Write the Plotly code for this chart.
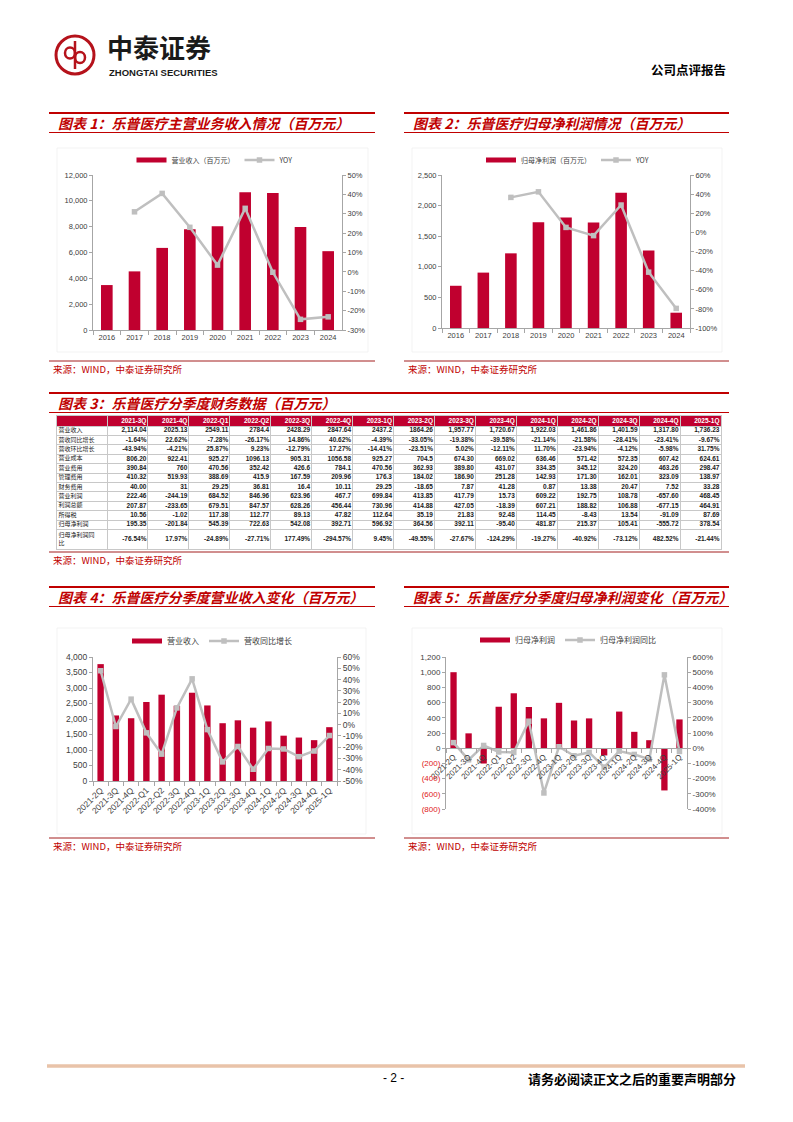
import plotly.graph_objects as go

W, H = 793, 1122

# ------------------------------------------------------------------ data
YEARS = ['2016', '2017', '2018', '2019', '2020', '2021', '2022', '2023', '2024']
REVENUE = [3479, 4538, 6356, 7796, 8039, 10660, 10609, 7980, 6103]
REVENUE_YOY = [None, 31.0, 40.5, 23.0, 3.5, 32.8, -0.2, -24.5, -23.2]
PROFIT = [690, 905, 1220, 1728, 1805, 1722, 2210, 1265, 250]
PROFIT_YOY = [None, None, 36.6, 42.4, 5.2, -3.4, 28.6, -41.6, -79.5]

QUARTERS = ['2021-2Q', '2021-3Q', '2021-4Q', '2022-Q1', '2022-Q2', '2022-3Q', '2022-4Q', '2023-1Q',
            '2023-2Q', '2023-3Q', '2023-4Q', '2024-1Q', '2024-2Q', '2024-3Q', '2024-4Q', '2025-1Q']
Q_REVENUE = [3770, 2114.04, 2025.13, 2549.11, 2784.40, 2428.29, 2847.64, 2437.20,
             1864.26, 1957.77, 1720.67, 1922.03, 1461.86, 1401.59, 1317.80, 1736.23]
Q_REVENUE_YOY = [47.8, -1.64, 22.62, -7.28, -26.17, 14.86, 40.62, -4.39,
                 -33.05, -19.38, -39.58, -21.14, -21.58, -28.41, -23.41, -9.67]
Q_PROFIT = [1000, 195.35, -201.84, 545.39, 722.63, 542.08, 392.71, 596.92,
            364.56, 392.11, -95.40, 481.87, 215.37, 105.41, -555.72, 378.54]
Q_PROFIT_YOY = [36.7, -76.54, 17.97, -24.89, -27.71, 177.49, -294.57, 9.45,
                -49.55, -27.67, -124.29, -19.27, -40.92, -73.12, 482.52, -21.44]

C1_LEFT_TICKS = [0, 2000, 4000, 6000, 8000, 10000, 12000]
C1_RIGHT_TICKS = [-30, -20, -10, 0, 10, 20, 30, 40, 50]
C2_LEFT_TICKS = [0, 500, 1000, 1500, 2000, 2500]
C2_RIGHT_TICKS = [-100, -80, -60, -40, -20, 0, 20, 40, 60]
C4_LEFT_TICKS = [0, 500, 1000, 1500, 2000, 2500, 3000, 3500, 4000]
C4_RIGHT_TICKS = [-50, -40, -30, -20, -10, 0, 10, 20, 30, 40, 50, 60]
C5_LEFT_TICKS = [-800, -600, -400, -200, 0, 200, 400, 600, 800, 1000, 1200]
C5_RIGHT_TICKS = [-400, -300, -200, -100, 0, 100, 200, 300, 400, 500, 600]

TABLE_COLS = ['2021-3Q', '2021-4Q', '2022-Q1', '2022-Q2', '2022-3Q', '2022-4Q', '2023-1Q', '2023-2Q',
              '2023-3Q', '2023-4Q', '2024-1Q', '2024-2Q', '2024-3Q', '2024-4Q', '2025-1Q']
ROW_LABELS = ['营业收入', '营收同比增长', '营收环比增长', '营业成本', '营业费用', '管理费用', '财务费用',
              '营业利润', '利润总额', '所得税', '归母净利润', '归母净利润同<br>比']
ROW_REV = ['2,114.04', '2025.13', '2549.11', '2784.4', '2428.29', '2847.64', '2437.2', '1864.26',
           '1,957.77', '1,720.67', '1,922.03', '1,461.86', '1,401.59', '1,317.80', '1,736.23']
ROW_REV_YOY = ['-1.64%', '22.62%', '-7.28%', '-26.17%', '14.86%', '40.62%', '-4.39%', '-33.05%',
               '-19.38%', '-39.58%', '-21.14%', '-21.58%', '-28.41%', '-23.41%', '-9.67%']
ROW_REV_QOQ = ['-43.94%', '-4.21%', '25.87%', '9.23%', '-12.79%', '17.27%', '-14.41%', '-23.51%',
               '5.02%', '-12.11%', '11.70%', '-23.94%', '-4.12%', '-5.98%', '31.75%']
ROW_COST = ['806.20', '922.41', '925.27', '1096.13', '905.31', '1056.58', '925.27', '704.5',
            '674.30', '669.02', '636.46', '571.42', '572.35', '607.42', '624.61']
ROW_SELL = ['390.84', '760', '470.56', '352.42', '426.6', '784.1', '470.56', '362.93',
            '389.80', '431.07', '334.35', '345.12', '324.20', '463.26', '298.47']
ROW_ADMIN = ['410.32', '519.93', '388.69', '415.9', '167.59', '209.96', '176.3', '184.02',
             '186.90', '251.28', '142.93', '171.30', '162.01', '323.09', '138.97']
ROW_FIN = ['40.00', '31', '29.25', '36.81', '16.4', '10.11', '29.25', '-18.65',
           '7.87', '41.28', '0.87', '13.38', '20.47', '7.52', '33.28']
ROW_OP = ['222.46', '-244.19', '684.52', '846.96', '623.96', '467.7', '699.84', '413.85',
          '417.79', '15.73', '609.22', '192.75', '108.78', '-657.60', '468.45']
ROW_TOTAL = ['207.87', '-233.65', '679.51', '847.57', '628.26', '456.44', '730.96', '414.88',
             '427.05', '-18.39', '607.21', '188.82', '106.88', '-677.15', '464.91']
ROW_TAX = ['10.56', '-1.02', '117.38', '112.77', '89.13', '47.82', '112.64', '35.19',
           '21.83', '92.48', '114.45', '-8.43', '13.54', '-91.09', '87.69']
ROW_NP = ['195.35', '-201.84', '545.39', '722.63', '542.08', '392.71', '596.92', '364.56',
          '392.11', '-95.40', '481.87', '215.37', '105.41', '-555.72', '378.54']
ROW_NP_YOY = ['-76.54%', '17.97%', '-24.89%', '-27.71%', '177.49%', '-294.57%', '9.45%', '-49.55%',
              '-27.67%', '-124.29%', '-19.27%', '-40.92%', '-73.12%', '482.52%', '-21.44%']
TABLE_ROWS = [ROW_REV, ROW_REV_YOY, ROW_REV_QOQ, ROW_COST, ROW_SELL, ROW_ADMIN, ROW_FIN,
              ROW_OP, ROW_TOTAL, ROW_TAX, ROW_NP, ROW_NP_YOY]

# ------------------------------------------------------------------ style
RED = '#C0002F'
LINE_GRAY = '#BFBFBF'
TITLE_RED = '#C00000'
AXIS_C = '#A6A6A6'
TICK_C = '#404040'
CJK = 'Noto Sans CJK SC'
LAT = 'Liberation Sans'
SRC_LINE = '#A31F1F'


def fx(x):
    return x / W


def fy(y):
    return 1 - y / H


def axname(p, n):
    return p + 'axis' + ('' if n == 1 else str(n))


def axref(p, n):
    return p + ('' if n == 1 else str(n))


fig = go.Figure()
lay = dict(width=W, height=H, margin=dict(l=0, r=0, t=0, b=0, autoexpand=False),
           paper_bgcolor='white', plot_bgcolor='white', bargap=0.58,
           font=dict(family=LAT, color=TICK_C), showlegend=True)
shapes = []
annotations = []


def add_chart(i, cats, bars, line, names, box, left, right, legend_xy, tick_fs, leg_fs,
              tickangle=0, zero_frac=None):
    x0, y0, x1, y1 = box
    xr = axref('x', i)
    yl = axref('y', 2 * i - 1)
    yr = axref('y', 2 * i)
    leg = 'legend' if i == 1 else 'legend%d' % i
    fig.add_trace(go.Bar(x=cats, y=bars, marker=dict(color=RED, line_width=0), xaxis=xr, yaxis=yl,
                         showlegend=False, hoverinfo='skip'))
    fig.add_trace(go.Scatter(x=[cats[0]], y=[None], mode='lines', line=dict(color=RED, width=5),
                             name=names[0], legend=leg, xaxis=xr, yaxis=yl, hoverinfo='skip'))
    fig.add_trace(go.Scatter(x=cats, y=line, mode='lines+markers',
                             line=dict(color=LINE_GRAY, width=2.5),
                             marker=dict(symbol='square', size=5.5, color=LINE_GRAY),
                             name=names[1], legend=leg, xaxis=xr, yaxis=yr, connectgaps=False,
                             hoverinfo='skip'))
    common = dict(showgrid=False, zeroline=False, showline=True, linecolor=AXIS_C, linewidth=1,
                  ticks='outside', tickcolor=AXIS_C, ticklen=3, automargin=False,
                  tickfont=dict(size=tick_fs, color=TICK_C, family=LAT), fixedrange=True)
    xa = dict(common, domain=[fx(x0), fx(x1)], type='category', tickson='boundaries', ticklen=4,
              tickangle=tickangle, range=[-0.5, len(cats) - 0.5],
              categoryorder='array', categoryarray=cats)
    if zero_frac is None:
        xa['anchor'] = yl
    else:
        xa.update(anchor='free', position=fy(y1) + zero_frac * (fy(y0) - fy(y1)))
    lay[axname('x', i)] = xa
    lay[axname('y', 2 * i - 1)] = dict(common, domain=[fy(y1), fy(y0)], anchor=xr,
                                       range=left[0], tickvals=left[1], ticktext=left[2])
    lay[axname('y', 2 * i)] = dict(common, overlaying=yl, side='right', anchor=xr,
                                   range=right[0], tickvals=right[1], ticktext=right[2])
    lay[leg] = dict(x=fx(legend_xy[0]), y=fy(legend_xy[1]), xanchor='center', yanchor='middle',
                    orientation='h', font=dict(size=leg_fs, family=CJK, color=TICK_C),
                    bgcolor='rgba(0,0,0,0)', itemwidth=30)


def num_labels(vals):
    return ['{:,}'.format(v) for v in vals]


def pct_labels(vals):
    return ['%d%%' % v for v in vals]


def paren_labels(vals):
    out = []
    for v in vals:
        if v < 0:
            out.append('<span style="color:#E02020">({:,})</span>'.format(-v))
        else:
            out.append('{:,}'.format(v))
    return out


add_chart(1, YEARS, REVENUE, REVENUE_YOY, ['营业收入（百万元）', 'YOY'], (93, 175, 342, 330),
          ([0, 12000], C1_LEFT_TICKS, num_labels(C1_LEFT_TICKS)),
          ([-30, 50], C1_RIGHT_TICKS, pct_labels(C1_RIGHT_TICKS)),
          (215, 160), 7.5, 7)
add_chart(2, YEARS, PROFIT, PROFIT_YOY, ['归母净利润（百万元）', 'YOY'], (442, 175, 690, 328),
          ([0, 2500], C2_LEFT_TICKS, num_labels(C2_LEFT_TICKS)),
          ([-100, 60], C2_RIGHT_TICKS, pct_labels(C2_RIGHT_TICKS)),
          (568, 160), 7.5, 7)
add_chart(3, QUARTERS, Q_REVENUE, Q_REVENUE_YOY, ['营业收入', '营收同比增长'], (93, 657, 337, 781),
          ([0, 4000], C4_LEFT_TICKS, num_labels(C4_LEFT_TICKS)),
          ([-50, 60], C4_RIGHT_TICKS, pct_labels(C4_RIGHT_TICKS)),
          (212, 641), 8.5, 8, tickangle=-45)
add_chart(4, QUARTERS, Q_PROFIT, Q_PROFIT_YOY, ['归母净利润', '归母净利润同比'], (446, 657, 687, 809),
          ([-800, 1200], C5_LEFT_TICKS, paren_labels(C5_LEFT_TICKS)),
          ([-400, 600], C5_RIGHT_TICKS, pct_labels(C5_RIGHT_TICKS)),
          (568, 640), 8, 8, tickangle=-45, zero_frac=0.4)

# ------------------------------------------------------------------ table (drawn on its own axes)
LABEL_W = 50
COL_W = 40.93
HEADER_H = 10
ROW_H = 9.4
LAST_H = 20
XMAX = LABEL_W + COL_W * len(TABLE_COLS)
row_tops = [HEADER_H + ROW_H * r for r in range(len(TABLE_ROWS))]
row_heights = [ROW_H] * (len(TABLE_ROWS) - 1) + [LAST_H]
YMAX = row_tops[-1] + LAST_H
row_centers = [t + h / 2 for t, h in zip(row_tops, row_heights)]
col_edges = [0] + [LABEL_W + COL_W * j for j in range(len(TABLE_COLS) + 1)]
row_edges = [0, HEADER_H] + [t + h for t, h in zip(row_tops, row_heights)]

tx, ty, tt = [], [], []
for j, col in enumerate(TABLE_COLS):
    for r, row in enumerate(TABLE_ROWS):
        tx.append(col_edges[j + 2] - 1.5)
        ty.append(row_centers[r])
        tt.append('<b>%s</b>' % row[j])
fig.add_trace(go.Scatter(x=tx, y=ty, text=tt, mode='text', textposition='middle left',
                         textfont=dict(family=LAT, size=6.5, color='#1A1A1A'),
                         xaxis='x5', yaxis='y9', showlegend=False, hoverinfo='skip', cliponaxis=False))
fig.add_trace(go.Scatter(x=[col_edges[j + 2] - 1.5 for j in range(len(TABLE_COLS))],
                         y=[HEADER_H / 2] * len(TABLE_COLS),
                         text=['<b>%s</b>' % c for c in TABLE_COLS], mode='text',
                         textposition='middle left',
                         textfont=dict(family=LAT, size=6.5, color='white'),
                         xaxis='x5', yaxis='y9', showlegend=False, hoverinfo='skip', cliponaxis=False))
fig.add_trace(go.Scatter(x=[1.5] * len(ROW_LABELS), y=row_centers, text=ROW_LABELS, mode='text',
                         textposition='middle right',
                         textfont=dict(family=CJK, size=6, color='#1A1A1A'),
                         xaxis='x5', yaxis='y9', showlegend=False, hoverinfo='skip', cliponaxis=False))
grid = dict(showgrid=True, gridcolor='#C8C8C8', gridwidth=0.8, zeroline=False, showticklabels=False,
            ticks='', showline=True, mirror=True, linecolor='#C8C8C8', linewidth=0.8, fixedrange=True,
            automargin=False)
lay['xaxis5'] = dict(grid, domain=[fx(57), fx(57 + XMAX)], range=[0, XMAX], tickvals=col_edges,
                     anchor='y9')
lay['yaxis9'] = dict(grid, domain=[fy(416 + YMAX), fy(416)], range=[YMAX, 0], tickvals=row_edges,
                     anchor='x5')
shapes.append(dict(type='rect', xref='x5', yref='y9', x0=0, x1=XMAX, y0=0, y1=HEADER_H,
                   fillcolor=RED, line=dict(width=0), layer='below'))


# ------------------------------------------------------------------ page decoration
def hline(x0, x1, y, color, w):
    shapes.append(dict(type='line', xref='paper', yref='paper', x0=fx(x0), x1=fx(x1),
                       y0=fy(y), y1=fy(y), line=dict(color=color, width=w)))


def text(t, x, y, size, color='#000000', family=CJK, xanchor='left'):
    annotations.append(dict(text=t, x=fx(x), y=fy(y), xref='paper', yref='paper', xanchor=xanchor,
                            yanchor='middle', showarrow=False, borderpad=0,
                            font=dict(family=family, size=size, color=color)))


def rect(x0, y0, x1, y1, color):
    shapes.append(dict(type='rect', xref='paper', yref='paper', x0=fx(x0), x1=fx(x1),
                       y0=fy(y1), y1=fy(y0), line=dict(color=color, width=0.8), layer='below'))


TITLES = [
    ('图表 1：乐普医疗主营业务收入情况（百万元）', 49, 375, 113),
    ('图表 2：乐普医疗归母净利润情况（百万元）', 404, 729, 113),
    ('图表 3：乐普医疗分季度财务数据（百万元）', 49, 729, 393),
    ('图表 4：乐普医疗分季度营业收入变化（百万元）', 49, 375, 587),
    ('图表 5：乐普医疗分季度归母净利润变化（百万元）', 404, 729, 587),
]
for t, x0, x1, ytop in TITLES:
    hline(x0, x1, ytop, TITLE_RED, 2)
    hline(x0, x1, ytop + 19.5, TITLE_RED, 1.2)
    text('<b><i>%s</i></b>' % t, x0 + 8, ytop + 10, 14, TITLE_RED)

SOURCES = [(49, 375, 361), (404, 729, 361), (49, 729, 552), (49, 375, 838), (404, 729, 838)]
for x0, x1, yl in SOURCES:
    hline(x0, x1, yl, SRC_LINE, 1)
    text('来源：WIND，中泰证券研究所', x0 + 3, yl + 8, 9.5, TITLE_RED)

for box in [(57, 148, 368, 352), (412, 148, 722, 352), (57, 628, 366, 834), (412, 628, 722, 834)]:
    rect(*box, '#F0F0F0')

# header / logo
LOGO_RED = '#B5121B'
shapes.append(dict(type='circle', xref='paper', yref='paper', x0=fx(56), x1=fx(94), y0=fy(74),
                   y1=fy(36), line=dict(color=LOGO_RED, width=3)))
shapes.append(dict(type='line', xref='paper', yref='paper', x0=fx(75), x1=fx(75), y0=fy(69),
                   y1=fy(41), line=dict(color=LOGO_RED, width=2.5)))
shapes.append(dict(type='circle', xref='paper', yref='paper', x0=fx(65), x1=fx(75), y0=fy(58.5),
                   y1=fy(47.5), line=dict(color=LOGO_RED, width=2.5)))
shapes.append(dict(type='circle', xref='paper', yref='paper', x0=fx(75), x1=fx(85), y0=fy(63),
                   y1=fy(52), line=dict(color=LOGO_RED, width=2.5)))
text('<b>中泰证券</b>', 106, 46.5, 26, '#1A1A1A')
text('<b>ZHONGTAI SECURITIES</b>', 108, 72.5, 9.5, '#1A1A1A', family=LAT)
text('<b>公司点评报告</b>', 727, 69, 12.5, '#000000', xanchor='right')

# footer
hline(47, 745, 1066, '#E9C3A9', 3.5)
text('- 2 -', 393, 1078, 12, '#000000', family=LAT, xanchor='center')
text('<b>请务必阅读正文之后的重要声明部分</b>', 737, 1078, 13, '#000000', xanchor='right')

lay['shapes'] = shapes
lay['annotations'] = annotations
fig.update_layout(**lay)

fig.write_html('out.html', config={'displayModeBar': False},
               post_script="document.body.style.margin='0';document.body.style.overflow='hidden';")
